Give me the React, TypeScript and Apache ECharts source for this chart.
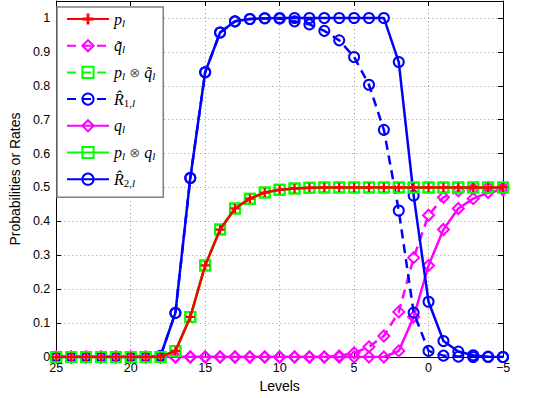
import React, { useEffect, useRef } from "react";
import * as echarts from "echarts";

const levels = [25, 24, 23, 22, 21, 20, 19, 18, 17, 16, 15, 14, 13, 12, 11, 10, 9, 8, 7, 6, 5, 4, 3, 2, 1, 0, -1, -2, -3, -4, -5];

const pL = [0, 0, 0, 0, 0, 0, 0, 0, 0.018, 0.118, 0.27, 0.376, 0.438, 0.467, 0.485, 0.493, 0.497, 0.499, 0.5, 0.5, 0.5, 0.5, 0.5, 0.5, 0.5, 0.5, 0.5, 0.5, 0.5, 0.5, 0.5];
const qTildeL = [0, 0, 0, 0, 0, 0, 0, 0, 0, 0, 0, 0, 0, 0, 0, 0, 0, 0, 0, 0.003, 0.012, 0.03, 0.062, 0.133, 0.293, 0.418, 0.471, 0.49, 0.497, 0.5, 0.5];
const pTimesQTilde = [0, 0, 0, 0, 0, 0, 0, 0, 0.018, 0.118, 0.27, 0.376, 0.438, 0.467, 0.485, 0.493, 0.497, 0.499, 0.5, 0.5, 0.5, 0.5, 0.5, 0.5, 0.5, 0.5, 0.5, 0.5, 0.5, 0.5, 0.5];
const r1L = [0, 0, 0, 0, 0, 0, 0, 0.003, 0.13, 0.528, 0.84, 0.957, 0.99, 0.997, 0.999, 0.998, 0.99, 0.981, 0.962, 0.934, 0.885, 0.803, 0.67, 0.432, 0.131, 0.018, 0.004, 0.001, 0, 0, 0];
const qL = [0, 0, 0, 0, 0, 0, 0, 0, 0, 0, 0, 0, 0, 0, 0, 0, 0, 0, 0, 0, 0, 0, 0, 0.018, 0.118, 0.27, 0.376, 0.438, 0.467, 0.485, 0.493];
const pTimesQ = [0, 0, 0, 0, 0, 0, 0, 0, 0.018, 0.118, 0.27, 0.376, 0.438, 0.467, 0.485, 0.493, 0.497, 0.499, 0.5, 0.5, 0.5, 0.5, 0.5, 0.5, 0.5, 0.5, 0.5, 0.5, 0.5, 0.5, 0.5];
const r2L = [0, 0, 0, 0, 0, 0, 0, 0.003, 0.13, 0.528, 0.84, 0.957, 0.99, 0.997, 0.999, 1, 1, 1, 1, 1, 1, 1, 1, 0.87, 0.476, 0.163, 0.047, 0.016, 0.005, 0.001, 0];

const seriesNames = ["p_l", "q~_l", "p_l ⊗ q~_l", "R^_1,l", "q_l", "p_l ⊗ q_l", "R^_2,l"];
const legendLabels: Record<string, string> = {
  "p_l": "{it|p}{sub|l}",
  "q~_l": "{it|q\u0303}{sub|l}",
  "p_l ⊗ q~_l": "{it|p}{sub|l}{op| ⊗ }{it|q\u0303}{sub|l}",
  "R^_1,l": "{it|R\u0302}{subn|1,}{sub|l}",
  "q_l": "{it|q}{sub|l}",
  "p_l ⊗ q_l": "{it|p}{sub|l}{op| ⊗ }{it|q}{sub|l}",
  "R^_2,l": "{it|R\u0302}{subn|2,}{sub|l}",
};

const RED = "#ff0000";
const MAG = "#ff00ff";
const GRN = "#00ff00";
const BLU = "#0000ff";
const PLUS = "path://M3,0H5V3H8V5H5V8H3V5H0V3H3Z";
const DASH = [9, 6];

const toPts = (arr: number[]) => levels.map((l, i) => [l, arr[i]]);

export default function App() {
  const ref = useRef<HTMLDivElement>(null);
  useEffect(() => {
    if (!ref.current) return;
    const chart = echarts.init(ref.current, undefined, { renderer: "svg" });
    const axisFont = { fontFamily: "Liberation Sans", color: "#000" };
    const mk = (
      name: string,
      data: number[],
      color: string,
      symbol: string,
      size: number,
      dashed: boolean,
      z: number,
      filled: boolean
    ) => ({
      type: "line",
      name,
      data: toPts(data),
      symbol,
      symbolSize: size,
      z,
      lineStyle: { color, width: 2.5, type: dashed ? DASH : "solid" },
      itemStyle: filled
        ? { color, borderWidth: 0 }
        : { color: "rgba(255,255,255,0)", borderColor: color, borderWidth: 2 },
      emphasis: { disabled: true },
    });
    const yFmt = (v: number) => {
      const t = Math.round(v * 10);
      if (Math.abs(v * 10 - t) > 1e-6) return "";
      return String(t / 10);
    };
    const boxLine = { show: true, onZero: false, lineStyle: { color: "#000", width: 1 } };
    const tick = { show: true, inside: true, length: 5, lineStyle: { color: "#000" } };
    chart.setOption({
      animation: false,
      backgroundColor: "#fff",
      grid: { left: 50, right: 34, top: 1, bottom: 41 },
      xAxis: [
        {
          type: "value",
          min: -5,
          max: 25,
          interval: 5,
          inverse: true,
          name: "Levels",
          nameLocation: "middle",
          nameGap: 21,
          nameTextStyle: { ...axisFont, fontSize: 14 },
          axisLine: boxLine,
          axisTick: tick,
          axisLabel: {
            ...axisFont,
            fontSize: 12.5,
            margin: 4,
            formatter: (v: number) => String(v).replace("-", "\u2212"),
          },
          splitLine: { show: true, lineStyle: { color: "#999", type: [1, 3], width: 1 } },
        },
        {
          type: "value",
          min: -5,
          max: 25,
          interval: 5,
          inverse: true,
          position: "top",
          axisLine: boxLine,
          axisTick: tick,
          axisLabel: { show: false },
          splitLine: { show: false },
        },
      ],
      yAxis: [
        {
          type: "value",
          min: 0,
          max: 1.05,
          interval: 0.1,
          name: "Probabilities or Rates",
          nameLocation: "middle",
          nameGap: 30,
          nameTextStyle: { ...axisFont, fontSize: 14 },
          axisLine: boxLine,
          axisTick: tick,
          axisLabel: { ...axisFont, fontSize: 12.5, margin: 6, formatter: yFmt },
          splitLine: { show: true, lineStyle: { color: "#999", type: [1, 3], width: 1 } },
        },
        {
          type: "value",
          min: 0,
          max: 1.05,
          interval: 0.1,
          position: "right",
          axisLine: boxLine,
          axisTick: tick,
          axisLabel: { show: false },
          splitLine: { show: false },
        },
      ],
      legend: {
        data: seriesNames,
        orient: "vertical",
        left: 57,
        top: 7,
        padding: [4, 8, 9, 9],
        itemGap: 9.7,
        itemWidth: 42,
        itemHeight: 14,
        backgroundColor: "#fff",
        borderColor: "#808080",
        borderWidth: 1.5,
        borderRadius: 0,
        selectedMode: false,
        formatter: (name: string) => legendLabels[name] || name,
        textStyle: {
          color: "#000",
          rich: {
            it: { fontFamily: "Liberation Serif", fontStyle: "italic", fontSize: 16, lineHeight: 18, color: "#000" },
            sub: { fontFamily: "Liberation Serif", fontStyle: "italic", fontSize: 11, lineHeight: 10, verticalAlign: "bottom", color: "#000" },
            subn: { fontFamily: "Liberation Serif", fontSize: 11, lineHeight: 10, verticalAlign: "bottom", color: "#000" },
            op: { fontFamily: "DejaVu Sans", fontSize: 13, lineHeight: 18, color: "#555" },
          },
        },
      },
      series: [
        mk(seriesNames[0], pL, RED, PLUS, 9, false, 6, true),
        mk(seriesNames[1], qTildeL, MAG, "diamond", 11, true, 2, false),
        mk(seriesNames[2], pTimesQTilde, GRN, "rect", 10, true, 4, false),
        mk(seriesNames[3], r1L, BLU, "circle", 10, true, 3, false),
        mk(seriesNames[4], qL, MAG, "diamond", 11, false, 2, false),
        mk(seriesNames[5], pTimesQ, GRN, "rect", 10, false, 4, false),
        mk(seriesNames[6], r2L, BLU, "circle", 10, false, 3, false),
      ],
    });
    return () => chart.dispose();
  }, []);
  return (
    <div
      ref={ref}
      style={{ position: "fixed", left: 0, top: 0, width: 537, height: 398 }}
    />
  );
}
